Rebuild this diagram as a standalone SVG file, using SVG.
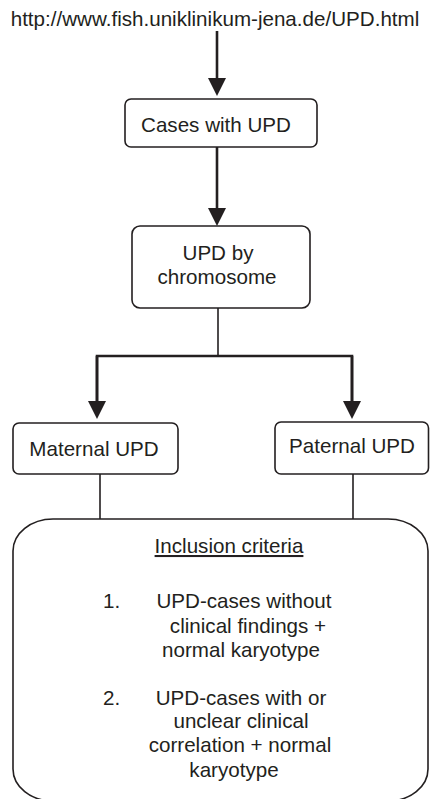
<svg xmlns="http://www.w3.org/2000/svg" width="430" height="799" viewBox="0 0 430 799">
  <style>
    text { font-family: "Liberation Sans", Arial, sans-serif; font-size: 20.6px; fill: #231f20; }
    .mid { text-anchor: middle; }
    .box { fill: #fff; stroke: #231f20; stroke-width: 1.6; }
    .thick { stroke: #231f20; stroke-width: 2.6; fill: none; }
    .thin { stroke: #231f20; stroke-width: 1.6; fill: none; }
  </style>
  <defs>
    <marker id="ah" markerUnits="userSpaceOnUse" markerWidth="18" markerHeight="18" viewBox="0 0 17 17" refX="0" refY="8.5" orient="auto">
      <path d="M0,0 L17,8.5 L0,17 z" fill="#231f20"/>
    </marker>
  </defs>

  <g id="source">
    <text class="mid" x="215" y="26">http://www.fish.uniklinikum-jena.de/UPD.html</text>
  </g>

  <g id="connectors">
    <line class="thick" x1="217" y1="31" x2="217" y2="78" marker-end="url(#ah)"/>
    <line class="thick" x1="217" y1="147" x2="217" y2="208" marker-end="url(#ah)"/>
    <line class="thin" x1="218" y1="308" x2="218" y2="356"/>
    <polyline class="thick" points="97,401 97,356 352,356 352,401"/>
    <line class="thick" x1="97" y1="356" x2="97" y2="401" marker-end="url(#ah)"/>
    <line class="thick" x1="352" y1="356" x2="352" y2="401" marker-end="url(#ah)"/>
    <line class="thin" x1="100" y1="474" x2="100" y2="519"/>
    <line class="thin" x1="353" y1="474" x2="353" y2="519"/>
  </g>

  <g id="cases">
    <rect class="box" x="125" y="99" width="192" height="48" rx="6"/>
    <text class="mid" x="216" y="132">Cases with UPD</text>
  </g>

  <g id="by-chromosome">
    <rect class="box" x="132" y="226" width="178" height="82" rx="8"/>
    <text class="mid" x="218" y="260">UPD by</text>
    <text class="mid" x="217" y="284">chromosome</text>
  </g>

  <g id="maternal">
    <rect class="box" x="13" y="423" width="165" height="51" rx="6"/>
    <text class="mid" x="94" y="456">Maternal UPD</text>
  </g>

  <g id="paternal">
    <rect class="box" x="275" y="422" width="153.5" height="52" rx="6"/>
    <text class="mid" x="352" y="453">Paternal UPD</text>
  </g>

  <g id="inclusion">
    <rect class="box" x="13" y="519" width="415" height="282" rx="40" ry="32"/>
    <text class="mid" x="229" y="553" text-decoration="underline">Inclusion criteria</text>
    <text x="103" y="608">1.</text>
    <text class="mid" x="244" y="608">UPD-cases without</text>
    <text class="mid" x="248" y="633">clinical findings +</text>
    <text class="mid" x="241" y="657">normal karyotype</text>
    <text x="103" y="705">2.</text>
    <text class="mid" x="241" y="705">UPD-cases with or</text>
    <text class="mid" x="241" y="728">unclear clinical</text>
    <text class="mid" x="240" y="752">correlation + normal</text>
    <text class="mid" x="234" y="777">karyotype</text>
  </g>
</svg>
